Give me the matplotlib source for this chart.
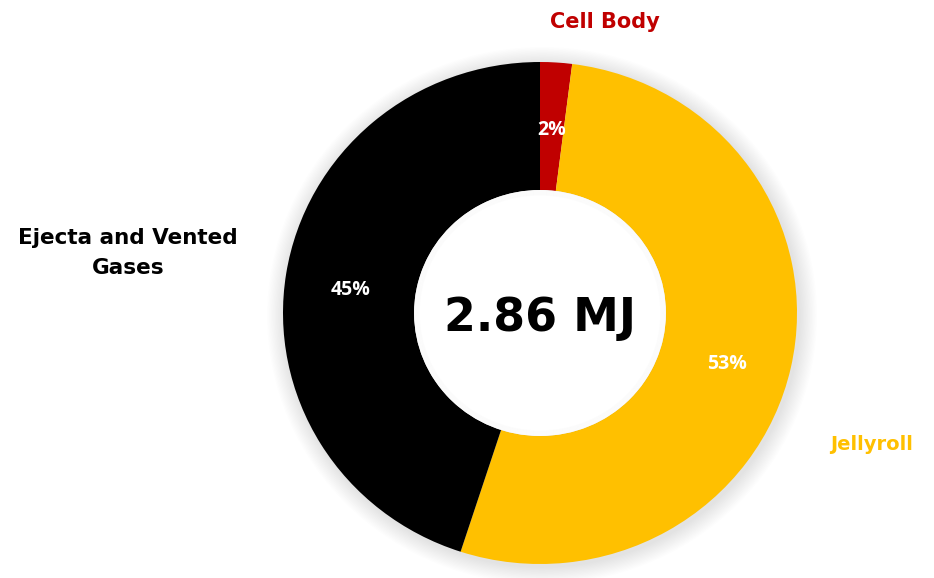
import matplotlib
matplotlib.use("Agg")
import matplotlib.pyplot as plt
from matplotlib.patches import Ellipse

# energy split of the cell, percent
labels = ["Cell Body", "Jellyroll", "Ejecta and Vented\nGases"]
values = [2, 53, 45]
colors = ["#C00000", "#FFC000", "#000000"]
total_label = "2.86 MJ"

fig = plt.figure(figsize=(9.34, 5.78), dpi=100)
W, H = 934, 578
# donut box in pixels (left, bottom, width, height)
ax = fig.add_axes([283 / W, 14 / H, 514 / W, 502 / H])

# soft shadow around the ring
for i in range(14):
    r = 1.0 + 0.005 * (i + 1)
    ax.add_patch(Ellipse((0.008, -0.01), 2 * r, 2 * r, color="#000000",
                         alpha=0.008, lw=0, zorder=0, clip_on=False))

wedges, texts, autotexts = ax.pie(
    values, colors=colors, startangle=90, counterclock=False,
    radius=1.0, wedgeprops=dict(width=0.51, linewidth=0),
    autopct=lambda p: "%d%%" % round(p), pctdistance=0.745,
    textprops=dict(color="white", fontsize=14, fontweight="bold",
                   family="Open Sans"))
for t in autotexts:
    x, y = t.get_position()
    t.set_position((x, y - 0.025))
autotexts[0].set_position((autotexts[0].get_position()[0], 0.73))
autotexts[1].set_position((autotexts[1].get_position()[0],
                           autotexts[1].get_position()[1] - 0.015))

# hole with a faint inner shadow
ax.add_patch(Ellipse((0, 0), 0.98, 0.98, color="white", lw=0, zorder=5))
for i in range(6):
    r = 0.49 - 0.004 * i
    ax.add_patch(Ellipse((0, 0), 2 * r, 2 * r, fill=False, ec="#000000",
                         lw=1.0, alpha=0.01, zorder=6))

ax.set_aspect("auto")
ax.set_xlim(-1, 1)
ax.set_ylim(-1, 1)
ax.axis("off")

ax.text(0, -0.02, total_label, ha="center", va="center", fontsize=33,
        fontweight="bold", family="DejaVu Sans", zorder=10)

lab_font = dict(fontweight="bold", family="DejaVu Sans")
fig.text(605 / W, 1 - 22 / H, labels[0], color=colors[0], ha="center",
         va="center", fontsize=15, **lab_font)
fig.text(872 / W, 1 - 445 / H, labels[1], color=colors[1], ha="center",
         va="center", fontsize=14, **lab_font)
fig.text(128 / W, 1 - 253 / H, labels[2], color=colors[2], ha="center",
         va="center", linespacing=1.6, fontsize=15.5, **lab_font)

fig.savefig("out.png", dpi=100, facecolor="white")
